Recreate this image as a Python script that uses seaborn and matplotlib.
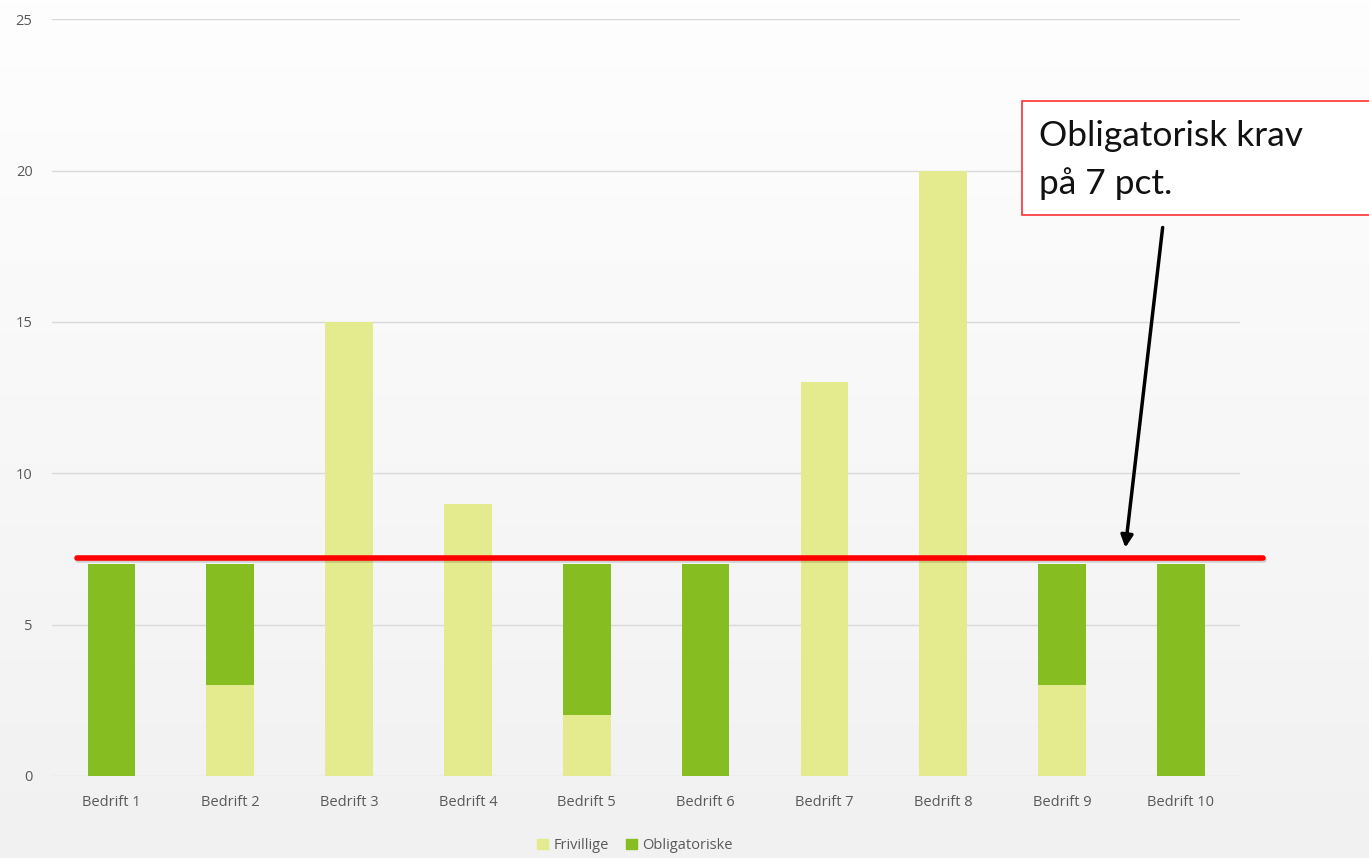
import numpy as np
import pandas as pd
import seaborn as sns
from matplotlib import pyplot as plt
from matplotlib.patches import Rectangle, Patch
import matplotlib.patheffects as pe

bedrifter = ["Bedrift 1", "Bedrift 2", "Bedrift 3", "Bedrift 4", "Bedrift 5",
             "Bedrift 6", "Bedrift 7", "Bedrift 8", "Bedrift 9", "Bedrift 10"]
frivillige = [0, 3, 15, 9, 2, 0, 13, 20, 3, 0]
obligatoriske = [7, 4, 0, 0, 5, 7, 0, 0, 4, 7]
krav = 7.2
y_ticks = [0, 5, 10, 15, 20, 25]

farge_friv = "#e4ea8e"
farge_oblig = "#86bd20"

df = pd.DataFrame({"bedrift": bedrifter, "frivillige": frivillige, "obligatoriske": obligatoriske})
df["total"] = df.frivillige + df.obligatoriske

sns.set_style("white")
plt.rcParams["font.family"] = ["Open Sans", "DejaVu Sans"]

fig = plt.figure(figsize=(13.69, 8.58), dpi=100)

# background gradient
bg = fig.add_axes([0, 0, 1, 1], zorder=-10)
grad = np.linspace(0, 1, 256).reshape(-1, 1)
bg.imshow(grad, aspect="auto", cmap=plt.matplotlib.colors.LinearSegmentedColormap.from_list("g", ["#fefefe", "#f1f1f1"]),
          extent=[0, 1, 0, 1])
bg.axis("off")

ax = fig.add_axes([0.038, 0.0956, 0.868, 0.882])
ax.set_facecolor("none")

sns.barplot(data=df, x="bedrift", y="total", color=farge_oblig, width=0.4, ax=ax, saturation=1,
            linewidth=0, zorder=3)
sns.barplot(data=df, x="bedrift", y="frivillige", color=farge_friv, width=0.4, ax=ax, saturation=1,
            linewidth=0, zorder=4)

ax.set_ylim(0, 25)
ax.set_xlim(-0.5, 9.5)
ax.set_yticks(y_ticks)
ax.yaxis.grid(True, color="#d9d9d9", linewidth=1)
ax.set_axisbelow(True)
for s in ax.spines.values():
    s.set_visible(False)
ax.set_xlabel("")
ax.set_ylabel("")
ax.tick_params(axis="both", length=0, colors="#595959", labelsize=10.5)
ax.tick_params(axis="y", pad=14)
ax.tick_params(axis="x", pad=14)

# red requirement line
ax.plot([-0.29, 9.69], [krav, krav], color="#ff0000", linewidth=4, clip_on=False, zorder=6,
        path_effects=[pe.SimpleLineShadow(offset=(1, -1.5), alpha=0.15), pe.Normal()])

# annotation box
fig.patches.append(Rectangle((0.7465, 0.749), 0.26, 0.133, transform=fig.transFigure,
                             facecolor="white", edgecolor="#ff3030", linewidth=1.2, zorder=5))
fig.text(0.759, 0.842, "Obligatorisk krav", fontsize=25.5, family=["Lato", "DejaVu Sans"], va="center",
         color="#111111", zorder=8)
fig.text(0.759, 0.786, "på 7 pct.", fontsize=25.5, family=["Lato", "DejaVu Sans"], va="center",
         color="#111111", zorder=8)
ax.annotate("", xy=(8.53, 7.45), xycoords="data", xytext=(0.8495, 0.738), textcoords="figure fraction",
            arrowprops=dict(arrowstyle="-|>", color="black", lw=2.5, mutation_scale=18), zorder=7)

handles = [Patch(color=farge_friv, label="Frivillige"), Patch(color=farge_oblig, label="Obligatoriske")]
fig.legend(handles=handles, loc="center", bbox_to_anchor=(0.464, 0.014), ncol=2, frameon=False,
           fontsize=10.5, handlelength=0.7, handleheight=0.7, handletextpad=0.4, columnspacing=1.2,
           labelcolor="#595959")

fig.savefig("out.png", dpi=100)
